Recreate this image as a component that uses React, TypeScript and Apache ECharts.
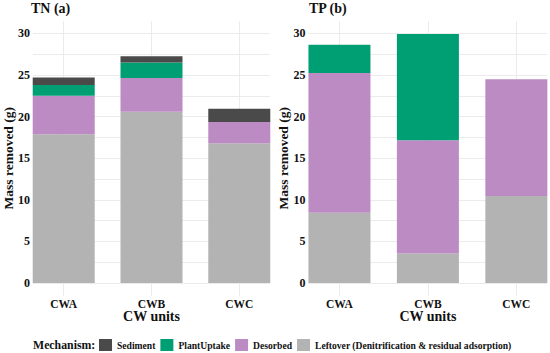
import React, { useEffect, useRef } from "react";
import * as echarts from "echarts";

const categories = ["CWA", "CWB", "CWC"];
const categoryPos = [1, 2, 3];

const tnLeftover = [17.9, 20.6, 16.8];
const tnDesorbed = [4.6, 4.05, 2.55];
const tnPlantUptake = [1.3, 1.85, 0];
const tnSediment = [0.9, 0.75, 1.6];

const tpLeftover = [8.45, 3.55, 10.45];
const tpDesorbed = [16.8, 13.6, 14.05];
const tpPlantUptake = [3.4, 12.8, 0];
const tpSediment = [0, 0, 0];

const yTicks = [0, 5, 10, 15, 20, 25, 30];
const yGrid = [0, 2.5, 5, 7.5, 10, 12.5, 15, 17.5, 20, 22.5, 25, 27.5, 30];

const panelTitles = ["TN (a)", "TP (b)"];
const mechanismNames = [
  "Sediment",
  "PlantUptake",
  "Desorbed",
  "Leftover (Denitrification & residual adsorption)",
];
const mechanismColors = ["#4a4a4a", "#009e73", "#bc8bc4", "#b3b3b3"];

const FONT = "Liberation Serif";

export default function App() {
  const ref = useRef<HTMLDivElement>(null);

  useEffect(() => {
    if (!ref.current) return;
    const chart = echarts.init(ref.current, null, { renderer: "svg" });

    const grids = [
      { left: 32, right: 280, top: 21, bottom: 57.5 },
      { left: 308.5, right: 2.7, top: 21, bottom: 57.5 },
    ];

    const txt = (size: number) => ({
      color: "#111",
      fontFamily: FONT,
      fontWeight: "bold" as const,
      fontSize: size,
    });

    const xAxes = grids.map((_, i) => ({
      type: "value",
      gridIndex: i,
      min: 0.65,
      max: 3.35,
      axisLine: { show: false },
      axisTick: { show: false, customValues: categoryPos },
      axisLabel: {
        customValues: categoryPos,
        formatter: (v: number) => categories[Math.round(v) - 1] ?? "",
        ...txt(11.5),
        margin: 2,
      },
      splitLine: { show: true, lineStyle: { color: "#ebebeb", width: 1 } },
      name: "CW units",
      nameLocation: "middle",
      nameGap: 13.5,
      nameMoveOverlap: false,
      nameTextStyle: txt(14),
    }));

    const yAxes = grids.map((_, i) => ({
      type: "value",
      gridIndex: i,
      min: -1.5,
      max: 31.5,
      axisLine: { show: false },
      axisTick: { show: false, customValues: yGrid },
      axisLabel: {
        customValues: yTicks,
        ...txt(12),
        margin: 3,
      },
      splitLine: { show: true, lineStyle: { color: "#ebebeb", width: 1 } },
      name: "Mass removed (g)",
      nameLocation: "middle",
      nameGap: 18,
      nameMoveOverlap: false,
      nameRotate: 90,
      nameTextStyle: txt(13.5),
    }));

    const panels = [
      [tnLeftover, tnDesorbed, tnPlantUptake, tnSediment],
      [tpLeftover, tpDesorbed, tpPlantUptake, tpSediment],
    ];
    // stacking order bottom -> top: Leftover, Desorbed, PlantUptake, Sediment
    const stackNameIdx = [3, 2, 1, 0];

    const series: any[] = [];
    panels.forEach((panel, p) => {
      panel.forEach((values, k) => {
        const mi = stackNameIdx[k];
        series.push({
          type: "bar",
          name: mechanismNames[mi],
          xAxisIndex: p,
          yAxisIndex: p,
          stack: "panel" + p,
          barWidth: 62,
          itemStyle: { color: mechanismColors[mi] },
          encode: { x: 1, y: 0 },
          data: values.map((v, j) => [v, categoryPos[j]]),
        });
      });
    });

    chart.setOption({
      animation: false,
      backgroundColor: "#ffffff",
      textStyle: { fontFamily: FONT, fontWeight: "bold" },
      title: panelTitles.map((t, i) => ({
        text: t,
        left: i === 0 ? 31 : 309,
        top: 1,
        padding: 0,
        textStyle: txt(14),
      })),
      grid: grids,
      xAxis: xAxes,
      yAxis: yAxes,
      legend: {
        data: mechanismNames,
        left: 99,
        top: 339,
        padding: 0,
        itemWidth: 13,
        itemHeight: 12,
        itemGap: 5,
        icon: "rect",
        selectedMode: false,
        textStyle: txt(9.6),
      },
      graphic: [
        {
          type: "text",
          left: 33,
          top: 338.5,
          style: {
            text: "Mechanism:",
            fill: "#111",
            font: "bold 11.8px Liberation Serif",
          },
        },
      ],
      series,
    });

    return () => chart.dispose();
  }, []);

  return (
    <div
      ref={ref}
      style={{ width: 550, height: 353, position: "absolute", left: 0, top: 0 }}
    />
  );
}
